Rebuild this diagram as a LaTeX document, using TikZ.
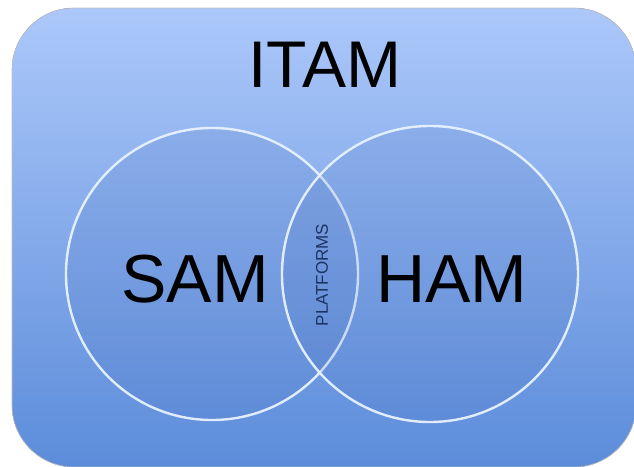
\documentclass[tikz,border=0pt]{standalone}
\usepackage{fontspec}
\setmainfont{Liberation Sans}
\definecolor{panelTop}{RGB}{172,200,250}
\definecolor{panelBottom}{RGB}{92,140,218}
\definecolor{setFill}{RGB}{60,100,180}
\definecolor{setEdge}{RGB}{232,242,255}
\definecolor{lensText}{RGB}{28,52,100}
\begin{document}
\begin{tikzpicture}[x=1pt,y=-1pt,
  panel/.style={rounded corners=62pt, top color=panelTop, bottom color=panelBottom},
  setdisk/.style={circle, inner sep=0pt, fill=setFill, fill opacity=0.13,
                  draw=setEdge, draw opacity=0.95, line width=2.4pt},
  biglabel/.style={anchor=base, inner sep=0pt, font=\fontsize{68}{68}\selectfont, text=black},
  lenslabel/.style={inner sep=0pt, rotate=90, font=\fontsize{17}{17}\selectfont, text=lensText}]
  \useasboundingbox (0,0) rectangle (634,466);
  % background panel
  \fill[panel] (12,8) rectangle (636,467);
  \draw[black!25, line width=0.6pt, rounded corners=62pt] (12,8) rectangle (636,467);
  % the two overlapping sets
  \node[setdisk, minimum size=292pt] (samset) at (212,274) {};
  \node[setdisk, minimum size=296pt] (hamset) at (430,274) {};
  % labels
  \node[biglabel, font=\fontsize{66}{66}\selectfont] (itam) at (325,87) {ITAM};
  \node[biglabel] (sam) at (195,302) {SAM};
  \node[biglabel] (ham) at (452,302) {HAM};
  \node[lenslabel] (platforms) at (322,275) {PLATFORMS};
\end{tikzpicture}
\end{document}
